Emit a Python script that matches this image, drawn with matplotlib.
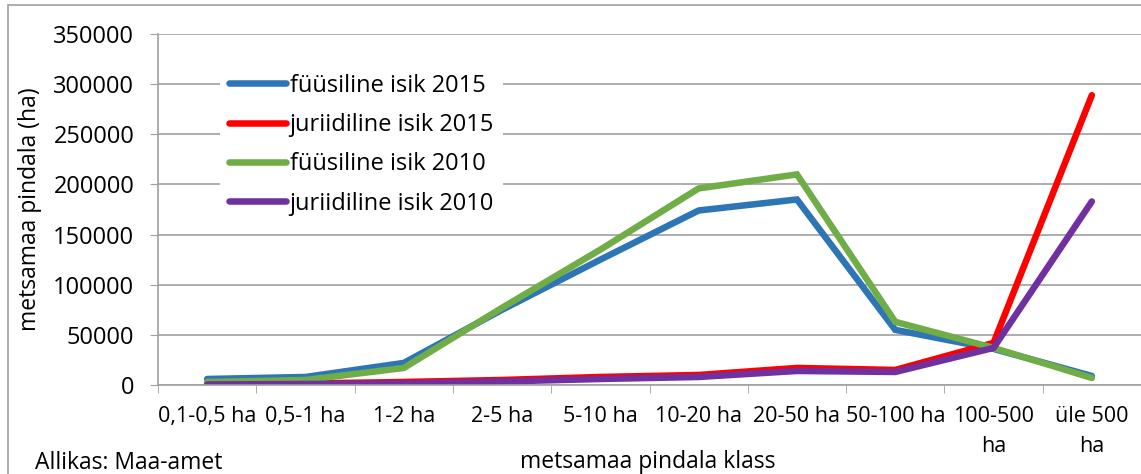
import numpy as np
import matplotlib.pyplot as plt
from matplotlib.patches import Rectangle

plt.rcParams['font.family'] = ['Open Sans', 'DejaVu Sans']

classes = ['0,1-0,5 ha', '0,5-1 ha', '1-2 ha', '2-5 ha', '5-10 ha', '10-20 ha',
           '20-50 ha', '50-100 ha', '100-500\nha', 'üle 500\nha']

fyys_2015 = [6000, 8000, 22000, 75000, 125000, 174000, 185000, 55000, 36000, 9000]
jur_2015 = [1000, 1500, 3000, 5000, 8000, 10000, 17000, 15000, 42000, 289000]
fyys_2010 = [3000, 5000, 17000, 77000, 135000, 196000, 210000, 63000, 37000, 7000]
jur_2010 = [500, 1000, 1500, 3500, 6000, 8000, 14000, 13000, 37000, 183000]

series = [
    ('füüsiline isik 2015', fyys_2015, '#2E75B6'),
    ('juriidiline isik 2015', jur_2015, '#FF0000'),
    ('füüsiline isik 2010', fyys_2010, '#70AD47'),
    ('juriidiline isik 2010', jur_2010, '#7030A0'),
]

fig = plt.figure(figsize=(11.41, 4.74), dpi=100)
ax = fig.add_axes([158 / 1141, 1 - 385 / 474, 1 - 158 / 1141, (385 - 34) / 474])

x = np.arange(len(classes))
for label, vals, color in series:
    ax.plot(x, vals, color=color, linewidth=4.7, label=label,
            solid_capstyle='round', solid_joinstyle='miter')

ax.set_xlim(-0.5, len(classes) - 0.5)
ax.set_ylim(0, 350000)
ax.set_yticks(np.arange(0, 350001, 50000))
ax.set_xticks(x)
ax.set_xticklabels(classes, fontsize=15.5, linespacing=1.6)
ax.set_xticks(np.arange(-0.5, len(classes), 1.0), minor=True)
ax.tick_params(axis='x', which='major', length=0, pad=15)
ax.tick_params(axis='x', which='minor', length=6, color='#A0A0A0', direction='out')
ax.tick_params(axis='y', length=6, color='#A0A0A0', labelsize=17, pad=11)

ax.grid(axis='y', color='#A0A0A0', linewidth=1.2)
ax.set_axisbelow(True)
for side in ['top', 'right']:
    ax.spines[side].set_visible(False)
for side in ['left', 'bottom']:
    ax.spines[side].set_color('#A0A0A0')
    ax.spines[side].set_linewidth(1.2)

ax.set_ylabel('metsamaa pindala (ha)', fontsize=16.5)
ax.yaxis.set_label_coords(-0.118, 0.5)

leg = ax.legend(loc='upper left', bbox_to_anchor=(0.051, 0.948), fontsize=17,
                frameon=True, fancybox=False, edgecolor='none', framealpha=1,
                handlelength=2.4, handletextpad=0.15, labelspacing=0.65,
                borderpad=0.4)

fig.text(35 / 1141, 1 - 469 / 474, 'Allikas: Maa-amet', fontsize=16.5, va='baseline')
fig.text(648 / 1141, 1 - 468 / 474, 'metsamaa pindala klass', fontsize=16.5,
         ha='center', va='baseline')

fig.patches.append(Rectangle((8 / 1141, -0.1), 1.2, 1 - 5 / 474 + 0.1,
                             transform=fig.transFigure, fill=False,
                             edgecolor='#A0A0A0', linewidth=1.2))

fig.savefig('out.png', dpi=100)
